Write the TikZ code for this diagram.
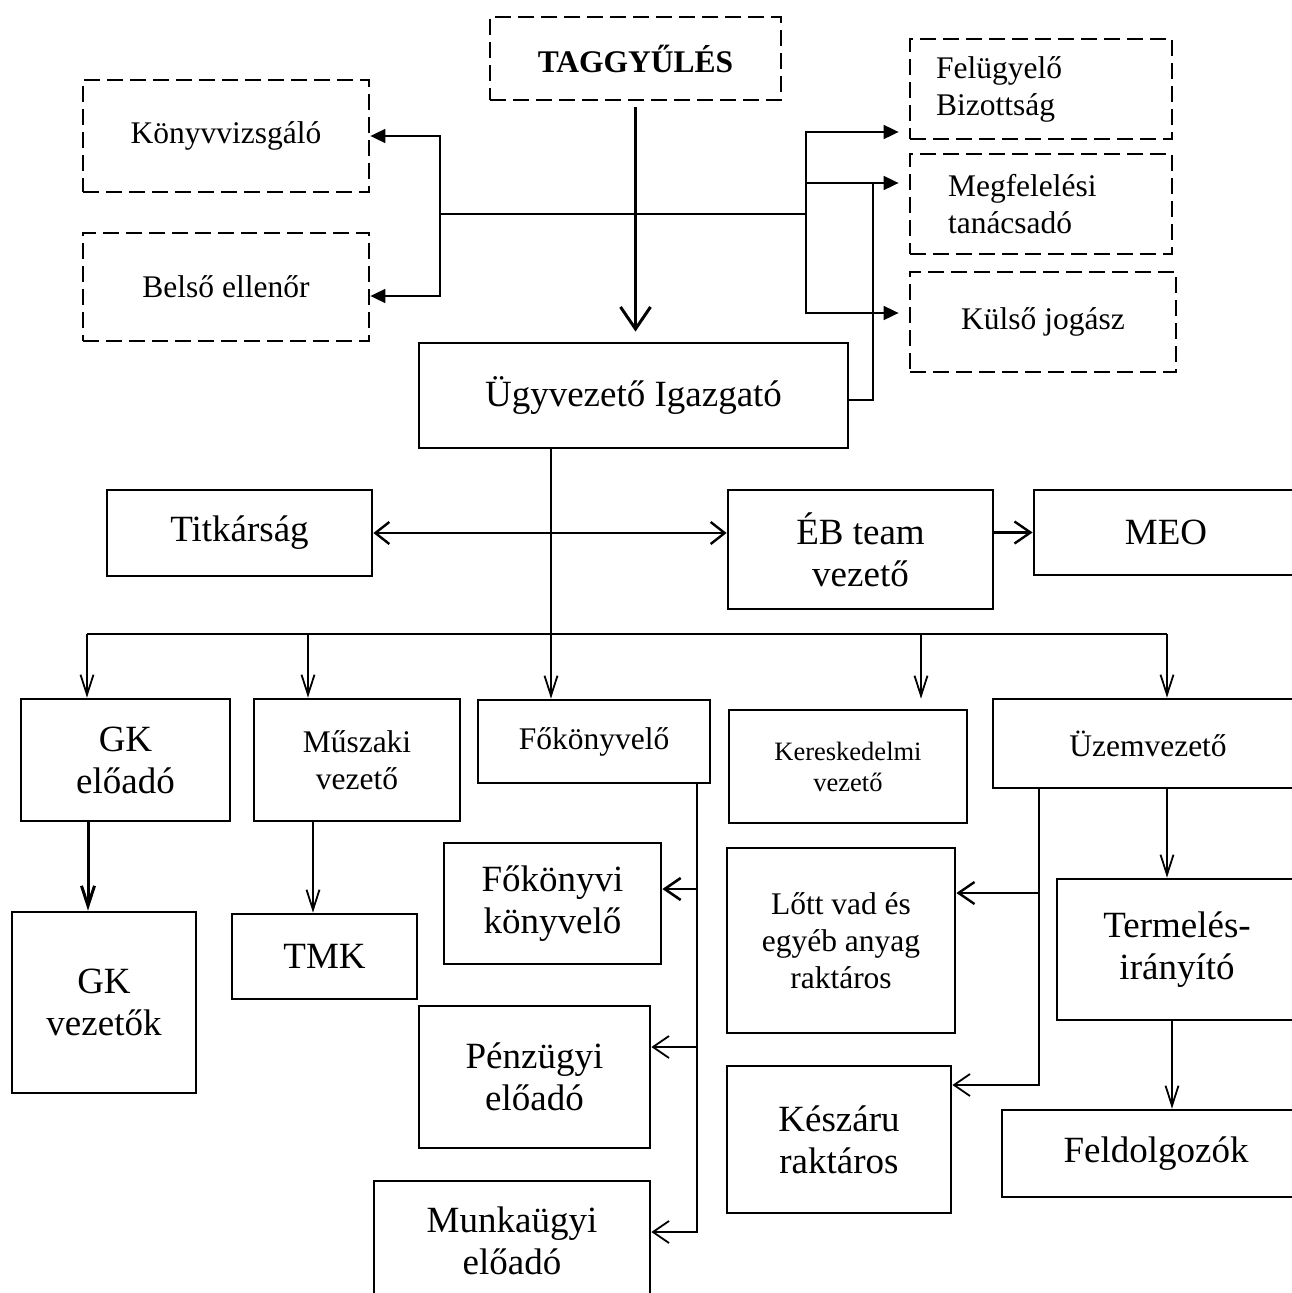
\documentclass[tikz,border=0pt]{standalone}
\usepackage{fontspec}
\setmainfont{Liberation Serif}
\usetikzlibrary{arrows.meta}

\begin{document}
\begin{tikzpicture}[x=1pt,y=-1pt,
	doboz/.style={draw,line width=2.8pt,align=center,inner sep=0pt,font=\fontsize{37}{42}\selectfont},
	kozep/.style={font=\fontsize{31.5}{37}\selectfont},
	kicsi/.style={font=\fontsize{26.5}{31}\selectfont},
	szagg/.style={draw,line width=2.8pt,dash pattern=on 16pt off 7pt,align=center,inner sep=0pt,font=\fontsize{31.5}{37}\selectfont},
	vonal/.style={line width=1.8pt},
	le/.style={vonal,-{Straight Barb[length=20pt,width=13pt]}},
	oldal/.style={vonal,-{Straight Barb[length=16pt,width=22pt]}},
	ket/.style={vonal,{Straight Barb[length=14pt,width=22pt]}-{Straight Barb[length=14pt,width=22pt]}},
	tele/.style={vonal,-{Triangle[length=15pt,width=14pt]}}]

	\useasboundingbox (0,0) rectangle (1292,1293);

	\node[szagg,font=\bfseries\fontsize{31.5}{37}\selectfont,minimum width=291pt,minimum height=83pt] (taggy) at (635.5,58.5) {TAGGYŰLÉS};
	\node[szagg,minimum width=286pt,minimum height=112pt] (konyv) at (226,136) {Könyvvizsgáló};
	\node[szagg,minimum width=286pt,minimum height=108pt] (belso) at (226,287) {Belső ellenőr};
	\node[szagg,align=left,text width=210pt,inner xsep=26pt,minimum height=100pt] (felugy) at (1041,89) {Felügyelő\\Bizottság};
	\node[szagg,align=left,text width=186pt,inner xsep=38pt,minimum height=100pt] (megf) at (1041,204) {Megfelelési\\tanácsadó};
	\node[szagg,minimum width=266pt,minimum height=100pt] (kulso) at (1043,322) {Külső jogász};

	\node[doboz,minimum width=429pt,minimum height=105pt] (ugyv) at (633.5,395.5) {Ügyvezető Igazgató};
	\node[doboz,minimum width=265pt,minimum height=86pt] (titk) at (239.5,533) {Titkárság};
	\node[doboz,minimum width=265pt,minimum height=119pt] (eb) at (860.5,549.5) {ÉB team\\vezető};
	\node[doboz,minimum width=264pt,minimum height=85pt] (meo) at (1166,532.5) {MEO};

	\node[doboz,minimum width=209pt,minimum height=122pt] (gkel) at (125.5,760) {GK\\előadó};
	\node[doboz,kozep,minimum width=206pt,minimum height=122pt] (musz) at (357,760) {Műszaki\\vezető};
	\node[doboz,kozep,minimum width=232pt,minimum height=83pt] (fokv) at (594,741.5) {Főkönyvelő};
	\node[doboz,kicsi,minimum width=238pt,minimum height=113pt] (ker) at (848,766.5) {Kereskedelmi\\vezető};
	\node[doboz,kozep,minimum width=310pt,minimum height=89pt] (uzem) at (1148,743.5) {Üzemvezető};

	\node[doboz,minimum width=184pt,minimum height=181pt] (gkv) at (104,1002.5) {GK\\vezetők};
	\node[doboz,minimum width=185pt,minimum height=85pt] (tmk) at (324.5,956.5) {TMK};
	\node[doboz,minimum width=217pt,minimum height=121pt] (fokonyvi) at (552.5,903.5) {Főkönyvi\\könyvelő};
	\node[doboz,minimum width=231pt,minimum height=142pt] (penz) at (534.5,1077) {Pénzügyi\\előadó};
	\node[doboz,minimum width=276pt,minimum height=120pt] (munka) at (512,1241) {Munkaügyi\\előadó};
	\node[doboz,kozep,minimum width=228pt,minimum height=185pt] (lott) at (841,940.5) {Lőtt vad és\\egyéb anyag\\raktáros};
	\node[doboz,minimum width=224pt,minimum height=147pt] (kesz) at (839,1139.5) {Készáru\\raktáros};
	\node[doboz,minimum width=240pt,minimum height=141pt] (term) at (1177,949.5) {Termelés-\\irányító};
	\node[doboz,minimum width=308pt,minimum height=87pt] (feld) at (1156,1153.5) {Feldolgozók};

	\draw[vonal,line width=3pt,-{Straight Barb[length=22pt,width=30pt]},shorten <=6pt,shorten >=10pt] (taggy.south) -- (taggy.south |- ugyv.north);

	\coordinate (balag) at (440,214);
	\coordinate (jobbag) at (806,214);
	\coordinate (megfbe) at ([yshift=21pt]megf.west);
	\draw[vonal] (balag) -- (jobbag);
	\draw[tele] (balag) |- (konyv.east);
	\draw[tele] (balag) |- ([yshift=-9pt]belso.east);
	\draw[tele,shorten >=10pt] (jobbag) |- ([yshift=-43pt]felugy.west);
	\draw[tele,shorten >=10pt] (jobbag) |- ([yshift=9pt]kulso.west);
	\draw[tele,shorten >=10pt] (jobbag |- megfbe) -- (megfbe);
	\draw[vonal] ([yshift=-4.5pt]ugyv.east) -| ([xshift=-36pt]megfbe);

	\coordinate (busz) at (551,634);
	\draw[vonal] (ugyv.south -| busz) -- (busz);
	\draw[ket,line width=2.4pt] (titk.east) -- (titk.east -| eb.west);
	\draw[oldal,line width=2.4pt] (eb.east |- meo.west) -- (meo.west);

	\coordinate (le1) at ([xshift=-38.5pt]gkel.north);
	\coordinate (le2) at ([xshift=-49pt]musz.north);
	\coordinate (le3) at (fokv.north -| busz);
	\coordinate (le4) at ([xshift=73pt,yshift=10pt]ker.north);
	\coordinate (le5) at ([xshift=19pt]uzem.north);
	\draw[vonal,line width=2.2pt] (le1 |- busz) -- (le5 |- busz);
	\foreach \c in {le1,le2,le3,le4,le5}
		\draw[le] (\c |- busz) -- (\c);

	\draw[le,line width=3pt] ([xshift=-37.5pt]gkel.south) -- ([xshift=-37.5pt]gkel.south |- gkv.north);
	\draw[le] ([xshift=-44pt]musz.south) -- ([xshift=-44pt]musz.south |- tmk.north);

	\coordinate (fkle) at ([xshift=103pt]fokv.south);
	\draw[oldal,line width=2.6pt] (fkle) |- ([yshift=14.5pt]fokonyvi.east);
	\draw[oldal] (fkle) |- ([yshift=30pt]penz.east);
	\draw[oldal] (fkle) |- ([yshift=9pt]munka.east);

	\coordinate (uzle) at ([xshift=-109pt]uzem.south);
	\draw[oldal,line width=2.4pt] (uzle) |- ([yshift=47.5pt]lott.east);
	\draw[oldal] (uzle) |- ([yshift=54.5pt]kesz.east);
	\draw[le] ([xshift=19pt]uzem.south) -- ([xshift=19pt]uzem.south |- term.north);
	\draw[le] ([xshift=-5pt]term.south) -- ([xshift=-5pt]term.south |- feld.north);

\end{tikzpicture}
\end{document}
